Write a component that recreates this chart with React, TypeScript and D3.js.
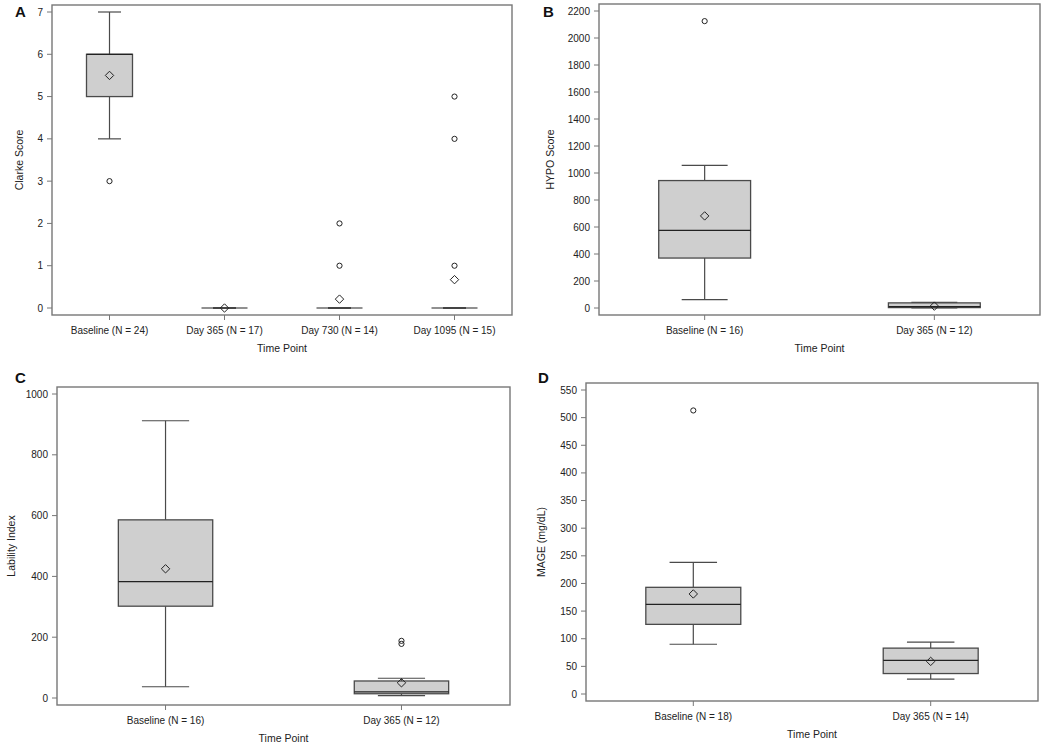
import React from 'react';
import * as d3 from 'd3';

// ---- data ----

const clarkeCategories = ['Baseline (N = 24)', 'Day 365 (N = 17)', 'Day 730 (N = 14)', 'Day 1095 (N = 15)'];
const clarkeStats = [
  { lo: 4, q1: 5, med: 6, q3: 6, hi: 7, mean: 5.5 },
  { lo: 0, q1: 0, med: 0, q3: 0, hi: 0, mean: 0 },
  { lo: 0, q1: 0, med: 0, q3: 0, hi: 0, mean: 0.21 },
  { lo: 0, q1: 0, med: 0, q3: 0, hi: 0, mean: 0.67 },
];
const clarkeOutliers = [[3], [], [2, 1], [5, 4, 1]];
const clarkeTicks = [0, 1, 2, 3, 4, 5, 6, 7];

const hypoCategories = ['Baseline (N = 16)', 'Day 365 (N = 12)'];
const hypoStats = [
  { lo: 62, q1: 370, med: 575, q3: 944, hi: 1056, mean: 682 },
  { lo: 0, q1: 3, med: 10, q3: 38, hi: 42, mean: 14 },
];
const hypoOutliers = [[2125], []];
const hypoTicks = [0, 200, 400, 600, 800, 1000, 1200, 1400, 1600, 1800, 2000, 2200];

const labilityCategories = ['Baseline (N = 16)', 'Day 365 (N = 12)'];
const labilityStats = [
  { lo: 37, q1: 302, med: 383, q3: 586, hi: 912, mean: 425 },
  { lo: 8, q1: 14, med: 20, q3: 56, hi: 65, mean: 50 },
];
const labilityOutliers = [[], [188, 178]];
const labilityTicks = [0, 200, 400, 600, 800, 1000];

const mageCategories = ['Baseline (N = 18)', 'Day 365 (N = 14)'];
const mageStats = [
  { lo: 90, q1: 126, med: 162, q3: 193, hi: 238, mean: 181 },
  { lo: 27, q1: 37, med: 61, q3: 83, hi: 94, mean: 59 },
];
const mageOutliers = [[513], []];
const mageTicks = [0, 50, 100, 150, 200, 250, 300, 350, 400, 450, 500, 550];

// ---- drawing ----

const FONT = '"Liberation Sans", Arial, Helvetica, sans-serif';
const TEXT = '#222';
const FRAME = '#777';
const BOX_STROKE = '#4a4a4a';
const BOX_FILL = '#cfcfcf';

interface Stat { lo: number; q1: number; med: number; q3: number; hi: number; mean: number }

interface PanelProps {
  letter: string;
  letterX: number;
  letterY: number;
  yLabel: string;
  categories: string[];
  stats: Stat[];
  outliers: number[][];
  ticks: number[];
  left: number; right: number; top: number; bottom: number;
  padding: number;
  titleOffset: number;
}

function Panel(p: PanelProps) {
  const inset = 7;
  const y = d3.scaleLinear()
    .domain([p.ticks[0], p.ticks[p.ticks.length - 1]])
    .range([p.bottom - inset, p.top + inset]);
  const x = d3.scalePoint<string>()
    .domain(p.categories)
    .range([p.left, p.right])
    .padding(p.padding);
  const step = x.step();
  const bw = step * 0.4;
  const cw = step * 0.2;
  const midY = (p.top + p.bottom) / 2;

  return (
    <g fontFamily={FONT}>
      <text x={p.letterX} y={p.letterY} fontSize={15} fontWeight="bold" fill="#111">{p.letter}</text>

      {/* y axis ticks */}
      {p.ticks.map((t) => (
        <g key={t} transform={`translate(0,${y(t)})`}>
          <line x1={p.left - 5} x2={p.left} stroke={FRAME} strokeWidth={1} />
          <text x={p.left - 9} dy="0.35em" textAnchor="end" fontSize={10} fill={TEXT}>{t}</text>
        </g>
      ))}
      <text
        transform={`translate(${p.left - p.titleOffset},${midY}) rotate(-90)`}
        textAnchor="middle" fontSize={10.5} fill={TEXT}
      >{p.yLabel}</text>

      {/* x axis ticks */}
      {p.categories.map((c) => (
        <g key={c} transform={`translate(${x(c)},0)`}>
          <line y1={p.bottom} y2={p.bottom + 5} stroke={FRAME} strokeWidth={1} />
          <text y={p.bottom + 19} textAnchor="middle" fontSize={10} fill={TEXT}>{c}</text>
        </g>
      ))}
      <text x={(p.left + p.right) / 2} y={p.bottom + 37} textAnchor="middle" fontSize={10.5} fill={TEXT}>Time Point</text>

      {/* boxes */}
      {p.stats.map((s, i) => {
        const cx = x(p.categories[i])!;
        return (
          <g key={i}>
            <line x1={cx} x2={cx} y1={y(s.q3)} y2={y(s.hi)} stroke={BOX_STROKE} strokeWidth={1.2} />
            <line x1={cx} x2={cx} y1={y(s.q1)} y2={y(s.lo)} stroke={BOX_STROKE} strokeWidth={1.2} />
            <line x1={cx - cw / 2} x2={cx + cw / 2} y1={y(s.hi)} y2={y(s.hi)} stroke={BOX_STROKE} strokeWidth={1.2} />
            <line x1={cx - cw / 2} x2={cx + cw / 2} y1={y(s.lo)} y2={y(s.lo)} stroke={BOX_STROKE} strokeWidth={1.2} />
            <rect
              x={cx - bw / 2} width={bw}
              y={y(s.q3)} height={Math.max(0, y(s.q1) - y(s.q3))}
              fill={BOX_FILL} stroke={BOX_STROKE} strokeWidth={1.3}
            />
            <line x1={cx - bw / 2} x2={cx + bw / 2} y1={y(s.med)} y2={y(s.med)} stroke="#222" strokeWidth={1.2} />
            <path
              transform={`translate(${cx},${y(s.mean)})`}
              d="M0,-4.2L4.2,0L0,4.2L-4.2,0Z"
              fill="none" stroke="#222" strokeWidth={1}
            />
            {p.outliers[i].map((o, j) => (
              <circle key={j} cx={cx} cy={y(o)} r={2.6} fill="none" stroke="#222" strokeWidth={1} />
            ))}
          </g>
        );
      })}

      <rect
        x={p.left} y={p.top} width={p.right - p.left} height={p.bottom - p.top}
        fill="none" stroke={FRAME} strokeWidth={1.4}
      />
    </g>
  );
}

export default function App() {
  return (
    <svg
      width={1048} height={746}
      style={{ position: 'absolute', left: 0, top: 0, background: '#fff' }}
    >
      <Panel
        letter="A" letterX={15} letterY={17} yLabel="Clarke Score"
        categories={clarkeCategories} stats={clarkeStats} outliers={clarkeOutliers} ticks={clarkeTicks}
        left={52} right={512} top={5} bottom={315} padding={0.5} titleOffset={29}
      />
      <Panel
        letter="B" letterX={543} letterY={17} yLabel="HYPO Score"
        categories={hypoCategories} stats={hypoStats} outliers={hypoOutliers} ticks={hypoTicks}
        left={599} right={1040} top={4} bottom={315} padding={0.46} titleOffset={45}
      />
      <Panel
        letter="C" letterX={15} letterY={383} yLabel="Lability Index"
        categories={labilityCategories} stats={labilityStats} outliers={labilityOutliers} ticks={labilityTicks}
        left={57} right={510} top={387} bottom={705} padding={0.46} titleOffset={42}
      />
      <Panel
        letter="D" letterX={538} letterY={383} yLabel="MAGE (mg/dL)"
        categories={mageCategories} stats={mageStats} outliers={mageOutliers} ticks={mageTicks}
        left={586} right={1038} top={383} bottom={701} padding={0.452} titleOffset={41}
      />
    </svg>
  );
}
